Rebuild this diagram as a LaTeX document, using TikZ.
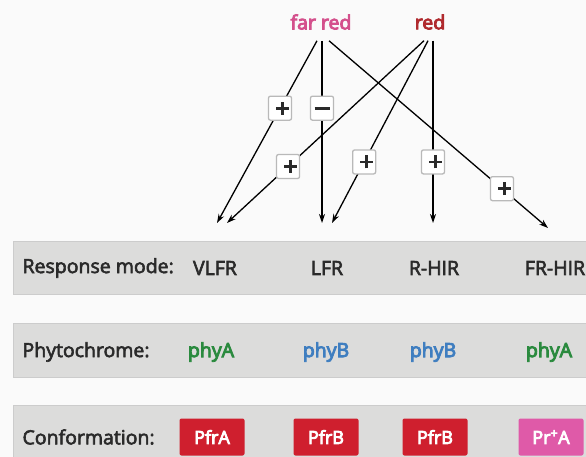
\documentclass[tikz,border=0pt]{standalone}
\usepackage{fontspec}
\setmainfont{Open Sans}
\newfontfamily\semibold[FakeBold=3]{Open Sans}
\newfontfamily\heavy[FakeBold=4.5]{Open Sans}
\usetikzlibrary{positioning,arrows.meta}

\definecolor{farred}{HTML}{D4508C}
\definecolor{redlight}{HTML}{B02A2E}
\definecolor{phyAgreen}{HTML}{2A8A3E}
\definecolor{phyBblue}{HTML}{3F7EC0}
\definecolor{boxred}{HTML}{CF1F2E}
\definecolor{boxpink}{HTML}{DF5AA8}
\definecolor{bandgray}{HTML}{DCDCDB}
\definecolor{ink}{HTML}{2A2A2A}

\newcommand{\plusmark}{\rlap{\rule[5.1pt]{13pt}{2.8pt}}\hspace{5.1pt}\rule{2.8pt}{13pt}\hspace{5.1pt}}
\newcommand{\minusmark}{\rule{15pt}{2.8pt}}

\tikzstyle{arrow} = [line width=1.3pt,->,>={Stealth[length=9pt,width=6pt]}]
\tikzstyle{light} = [inner ysep=11pt, font=\fontsize{19.5}{22}\selectfont\heavy]
\tikzstyle{sign} = [draw=gray!55, fill=white, rounded corners=2pt, minimum width=23pt, minimum height=24pt, inner sep=0pt, text=ink]
\tikzstyle{band} = [draw=gray!40, fill=bandgray, line width=1pt]
\tikzstyle{rowlabel} = [anchor=west, text=ink, font=\fontsize{19.5}{22}\selectfont\semibold]
\tikzstyle{entry} = [text=ink, font=\fontsize{19.5}{22}\selectfont\semibold]
\tikzstyle{phy} = [font=\fontsize{19.5}{22}\selectfont\heavy]
\tikzstyle{conf} = [fill=boxred, text=white, rounded corners=2pt, minimum width=65pt, minimum height=37pt, inner sep=0pt, font=\fontsize{18}{20}\selectfont\heavy]

\begin{document}
\begin{tikzpicture}[x=1pt,y=1pt]
\useasboundingbox (0,0) rectangle (586,-457);
\fill[white!96!gray] (0,0) rectangle (586,-457);
\clip (0,0) rectangle (586,-457);

% bands
\draw[band] (13,-241) rectangle (600,-294);
\draw[band] (13,-323) rectangle (600,-377);
\draw[band] (13,-405) rectangle (600,-470);

% light
\node (fr) [light, text=farred] at (321,-22) {far red};
\node (r) [light, text=redlight] at (430,-22) {red};

\coordinate (t1) at (217,-223);
\coordinate (t2) at (322,-223);
\coordinate (t3) at (548,-228);
\coordinate (t4) at (227,-223);
\coordinate (t5) at (332,-223);
\coordinate (t6) at (433,-223);

\draw [arrow] ([xshift=-4pt]fr.south) -- node[sign, pos=.37] (s1) {\plusmark} (t1);
\draw [arrow] ([xshift=1pt]fr.south) -- node[sign, pos=.37] (s2) {\minusmark} (t2);
\draw [arrow] ([xshift=8pt]fr.south) -- node[sign, pos=.79] (s3) {\plusmark} (t3);
\draw [arrow] ([xshift=-6pt]r.south) -- node[sign, pos=.69] (s4) {\plusmark} (t4);
\draw [arrow] ([xshift=-2pt]r.south) -- node[sign, pos=.665] (s5) {\plusmark} (t5);
\draw [arrow] ([xshift=3pt]r.south) -- node[sign, pos=.665] (s6) {\plusmark} (t6);

% rows
\node (mode) [rowlabel] at (19,-268) {Response mode:};
\node (vlfr) [entry] at (215,-268) {VLFR};
\node (lfr) [entry] at (327,-268) {LFR};
\node (rhir) [entry] at (434,-268) {R-HIR};
\node (frhir) [entry] at (555,-268) {FR-HIR};

\node (phy) [rowlabel] at (19,-352) {Phytochrome:};
\node (phyA1) [phy, text=phyAgreen] at (211,-352) {phyA};
\node (phyB1) [phy, text=phyBblue] at (326,-352) {phyB};
\node (phyB2) [phy, text=phyBblue] at (433,-352) {phyB};
\node (phyA2) [phy, text=phyAgreen] at (549,-352) {phyA};

\node (conf) [rowlabel] at (19,-437) {Conformation:};
\node (c1) [conf] at (212,-437) {PfrA};
\node (c2) [conf] at (326,-437) {PfrB};
\node (c3) [conf] at (435,-437) {PfrB};
\node (c4) [conf, fill=boxpink] at (551,-437) {Pr\textsuperscript{+}A};

\end{tikzpicture}
\end{document}
